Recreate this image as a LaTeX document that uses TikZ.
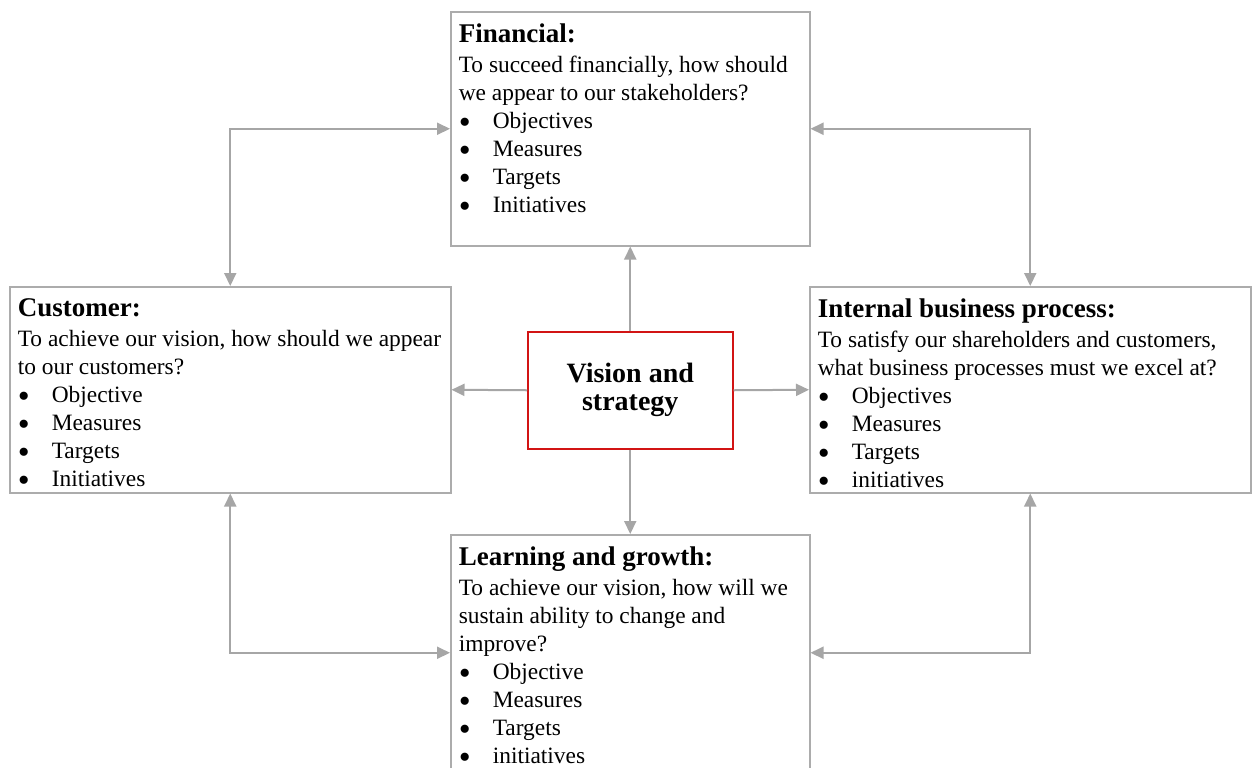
\documentclass[tikz,border=0pt]{standalone}
\usepackage{fontspec}
\setmainfont{Liberation Serif}
\usetikzlibrary{arrows.meta}
\definecolor{conngray}{RGB}{166,166,166}
\definecolor{boxgray}{RGB}{172,172,172}
\definecolor{visred}{RGB}{210,20,20}
\newcommand{\bul}[1]{\makebox[17pt][l]{\raisebox{-2.4pt}[0pt][0pt]{\fontsize{17}{14}\selectfont\textbullet}}#1}
\newcommand{\ttl}[1]{{\fontsize{13.5}{14}\selectfont\bfseries #1}}
\begin{document}
\begin{tikzpicture}[x=0.5pt,y=-0.5pt,
  box/.style={draw=boxgray, line width=0.75pt, fill=white, rectangle, inner sep=0pt, anchor=north west},
  txt/.style={anchor=north west, inner xsep=4.2pt, inner ysep=6.3pt, align=left, font=\fontsize{11.7}{14}\selectfont},
  conn/.style={draw=conngray, line width=1pt, -{Triangle[length=6.5pt,width=6pt]}},
  conntwo/.style={draw=conngray, line width=1pt, {Triangle[length=6.5pt,width=6pt]}-{Triangle[length=6.5pt,width=6pt]}}]
\useasboundingbox (0,0) rectangle (1254,767);
\node[box, minimum width=179.5pt, minimum height=117pt] (fin) at (450,11) {};
\node[box, minimum width=220.5pt, minimum height=103pt] (cust) at (9,286) {};
\node[box, minimum width=220.5pt, minimum height=103pt] (int) at (809,286) {};
\node[box, minimum width=179.5pt, minimum height=118pt] (learn) at (450,534) {};
\node[box, draw=visred, minimum width=102.5pt, minimum height=58.5pt] (vis) at (527,331) {};
\node[font=\fontsize{14}{14}\selectfont\bfseries, align=center] (vistxt) at (vis.center) {Vision and\\strategy};
\node[txt] (fintxt) at (fin.north west) {\ttl{Financial:}\\[0.8pt]To succeed financially, how should\\we appear to our stakeholders?\\\bul{Objectives}\\\bul{Measures}\\\bul{Targets}\\\bul{Initiatives}};
\node[txt] (custtxt) at (cust.north west) {\ttl{Customer:}\\[0.8pt]To achieve our vision, how should we appear\\to our customers?\\\bul{Objective}\\\bul{Measures}\\\bul{Targets}\\\bul{Initiatives}};
\node[txt] (inttxt) at (int.north west) {\ttl{Internal business process:}\\[0.8pt]To satisfy our shareholders and customers,\\what business processes must we excel at?\\\bul{Objectives}\\\bul{Measures}\\\bul{Targets}\\\bul{initiatives}};
\node[txt] (learntxt) at (learn.north west) {\ttl{Learning and growth:}\\[0.8pt]To achieve our vision, how will we\\sustain ability to change and\\improve?\\\bul{Objective}\\\bul{Measures}\\\bul{Targets}\\\bul{initiatives}};
\draw[conn] (vis.north) -- (fin.south);
\draw[conn] (vis.west) -- (cust.east);
\draw[conn] (vis.east) -- (int.west);
\draw[conn] (vis.south) -- (learn.north);
\draw[conntwo] (cust.north) |- (fin.west);
\draw[conntwo] (int.north) |- (fin.east);
\draw[conntwo] (cust.south) |- (learn.west);
\draw[conntwo] (int.south) |- (learn.east);
\end{tikzpicture}
\end{document}
